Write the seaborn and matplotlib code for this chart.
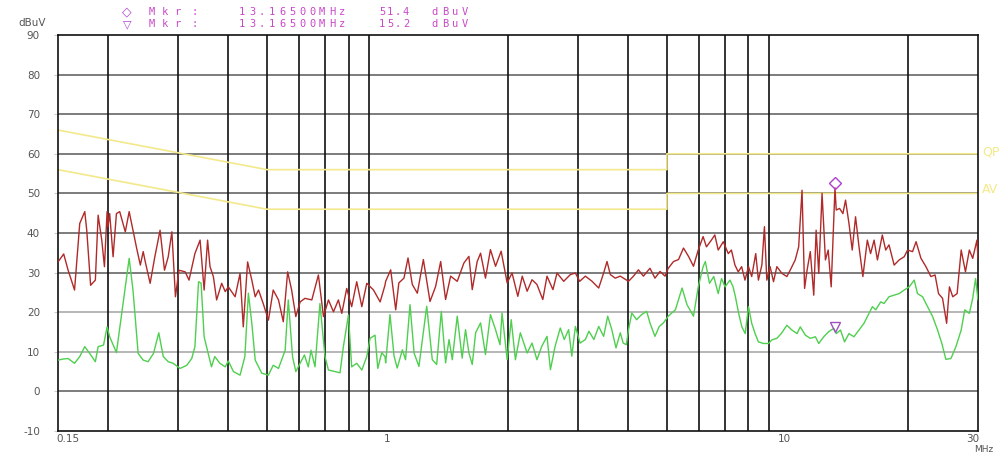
import matplotlib
matplotlib.use("Agg")
import matplotlib.pyplot as plt
import matplotlib.transforms as mtrans
import seaborn as sns
import pandas as pd

# ---------------- data ----------------
# Peak trace (dark red), three frequency bands (MHz / dBuV)
peak_freq_low = [0.150,0.155,0.159,0.165,0.170,0.175,0.177,0.181,0.186,0.189,
                 0.193,0.196,0.199,0.200,0.202,0.206,0.210,0.214,0.221,0.226,
                 0.231,0.236,0.241,0.245,0.248,0.255,0.262,0.270,0.277,0.283,
                 0.289,0.295,0.301,0.312,0.319,0.330,0.340,0.348,0.355,0.360,
                 0.367,0.374,0.385,0.393,0.400,0.416,0.428,0.436,0.447,0.458,
                 0.467,0.476,0.489,0.504,0.518,0.534,0.549,0.563,0.576,0.590,
                 0.605,0.622,0.647,0.672,0.692,0.712,0.733,0.754,0.769,0.791,
                 0.814,0.838,0.863,0.888,0.923,0.959,0.986]
peak_level_low = [32.7,34.7,30.6,25.6,42.4,45.4,40.7,26.8,28.1,44.5,
                  38.2,31.5,45.4,41.6,44.9,34.0,44.9,45.4,40.3,45.4,
                  40.7,36.1,31.9,35.3,32.7,27.3,34.0,40.7,30.6,34.0,
                  40.3,23.9,30.6,30.2,28.1,34.8,38.2,25.6,38.2,31.5,
                  29.0,23.1,27.3,25.2,26.4,23.9,29.8,16.3,32.7,28.1,
                  23.9,25.6,22.2,18.0,25.6,23.1,17.6,30.2,25.6,18.9,
                  22.6,23.5,23.1,29.4,18.9,23.1,20.1,23.1,19.7,26.0,
                  21.4,27.7,21.4,27.3,25.6,22.6,26.8]
peak_freq_mid = [0.990,1.019,1.049,1.068,1.100,1.126,1.154,1.188,1.230,1.278,
                 1.320,1.359,1.398,1.439,1.495,1.553,1.599,1.630,1.677,1.710,
                 1.759,1.810,1.864,1.925,1.993,2.050,2.119,2.174,2.236,2.300,
                 2.366,2.447,2.507,2.594,2.656,2.760,2.868,2.952,3.026,3.127,
                 3.250,3.376,3.474,3.542,3.610,3.713,3.823,4.009,4.125,4.244,
                 4.368,4.536,4.668,4.807,4.947,5.040,5.195,5.347,5.502,5.663,
                 5.828]
peak_level_mid = [27.8,30.7,20.6,27.4,28.6,33.7,27.0,24.8,33.3,22.7,
                  26.5,32.8,23.2,29.1,27.8,32.4,34.1,25.7,32.8,34.9,
                  28.6,35.8,31.6,35.4,27.4,29.9,24.0,29.1,25.3,28.2,
                  27.0,23.2,29.1,25.7,29.9,27.8,29.5,29.9,27.8,29.1,
                  27.8,26.1,29.9,32.8,29.5,28.6,29.1,27.8,29.1,30.7,
                  29.1,31.1,28.6,30.3,29.1,31.1,32.8,33.3,36.2,34.1,
                  31.6]
peak_freq_high = [5.99,6.16,6.28,6.46,6.59,6.72,6.92,7.12,7.25,7.40,
                  7.54,7.69,7.84,8.00,8.15,8.34,8.47,8.64,8.77,8.89,
                  9.06,9.24,9.42,9.70,9.98,10.17,10.47,10.68,10.89,11.05,
                  11.21,11.42,11.65,11.81,11.99,12.22,12.46,12.66,12.88,13.165,
                  13.26,13.52,13.78,13.99,14.27,14.54,14.82,15.12,15.46,15.86,
                  16.16,16.49,16.81,17.29,17.63,17.97,18.51,19.05,19.61,20.0,
                  20.58,21.00,21.60,22.23,22.87,23.43,23.9,24.46,25.04,25.45,
                  25.94,26.6,27.23,27.91,28.54,29.1,29.82,30.0]
peak_level_high = [35.7,39.1,36.5,38.2,39.5,35.7,37.8,34.8,35.7,31.9,
                   30.2,31.5,28.1,31.5,29.0,34.8,28.1,31.9,41.6,28.1,
                   31.5,27.7,31.5,29.8,29.0,30.6,33.2,36.5,50.8,26.0,
                   30.6,35.3,24.3,40.7,29.8,50.0,33.2,35.7,26.4,51.4,
                   45.8,46.2,44.9,48.3,42.4,35.7,44.1,36.5,29.0,38.2,
                   34.8,38.2,33.2,39.5,35.7,37.0,31.9,33.2,34.0,35.7,
                   35.3,37.8,33.6,31.5,29.0,29.4,24.7,23.5,17.2,26.4,
                   23.9,24.7,35.7,30.2,35.7,33.6,38.2,33.6]

# Average trace (green)
avg_freq_low = [0.150,0.155,0.159,0.165,0.170,0.175,0.180,0.186,0.189,0.195,
                0.199,0.202,0.210,0.216,0.226,0.231,0.238,0.245,0.252,0.260,
                0.268,0.275,0.283,0.291,0.303,0.315,0.324,0.330,0.337,0.342,
                0.348,0.357,0.363,0.370,0.381,0.393,0.400,0.412,0.428,0.440,
                0.449,0.458,0.467,0.485,0.504,0.518,0.534,0.555,0.565,0.579,
                0.590,0.605,0.620,0.634,0.644,0.659,0.678,0.698,0.712,0.740,
                0.761,0.776,0.799,0.814,0.838,0.863,0.888,0.905,0.931,0.946,
                0.968,0.986]
avg_level_low = [7.9,8.2,8.3,7.1,8.8,11.3,9.6,7.5,11.3,11.7,
                 16.3,13.8,9.8,18.9,33.6,25.6,9.6,7.9,7.5,9.6,
                 14.8,8.8,7.5,7.1,5.8,6.6,8.3,11.3,27.7,27.3,
                 13.8,9.2,6.2,8.8,7.1,6.2,7.7,5.0,4.1,8.8,
                 24.8,17.2,7.9,4.6,4.1,6.6,5.8,10.4,23.1,8.8,
                 5.0,7.1,9.2,6.2,10.4,6.2,22.2,8.8,5.4,5.0,
                 4.7,11.3,19.3,6.2,7.1,5.4,8.8,13.4,14.2,5.8,
                 9.8,8.8]
avg_freq_mid = [0.990,1.015,1.039,1.058,1.090,1.110,1.139,1.166,1.199,1.254,
                1.295,1.328,1.364,1.398,1.426,1.453,1.495,1.538,1.568,1.599,
                1.630,1.662,1.710,1.759,1.810,1.864,1.912,1.935,1.993,2.040,
                2.090,2.150,2.236,2.300,2.366,2.433,2.507,2.557,2.627,2.706,
                2.769,2.839,2.892,2.952,3.033,3.127,3.191,3.284,3.376,3.474,
                3.556,3.641,3.730,3.823,3.888,3.959,4.009,4.085,4.200,4.322,
                4.451,4.536,4.668,4.786,4.902,5.040,5.251,5.458,5.614,5.828]
avg_level_mid = [7.2,19.4,8.9,5.9,10.5,8.0,21.9,9.7,6.3,21.5,
                 8.0,6.8,20.2,7.2,13.1,8.0,19.0,8.4,15.6,9.7,
                 6.8,14.8,17.3,9.3,19.4,15.6,11.8,19.8,8.0,18.1,
                 8.0,14.8,9.7,12.2,8.0,11.4,13.9,5.5,11.4,16.0,
                 13.1,15.6,8.9,16.4,12.2,13.1,15.2,13.1,16.4,13.9,
                 19.0,15.6,11.0,14.8,12.2,11.8,15.6,19.8,18.1,19.4,
                 20.2,17.3,13.9,16.4,17.3,19.0,20.6,26.1,21.9,19.0]
avg_freq_high = [5.99,6.16,6.24,6.39,6.55,6.72,6.85,6.99,7.19,7.32,
                 7.42,7.56,7.70,7.85,8.00,8.15,8.31,8.47,8.72,8.98,
                 9.15,9.42,9.66,9.98,10.27,10.58,10.78,11.10,11.42,11.76,
                 11.99,12.34,12.70,13.07,13.26,13.59,13.91,14.27,14.68,15.12,
                 15.56,16.01,16.33,16.65,17.13,17.46,17.97,18.51,19.05,19.61,
                 20.19,20.78,21.17,21.80,22.44,23.10,23.77,24.36,24.93,25.67,
                 26.42,27.23,27.80,28.54,29.10,29.58,30.0]
avg_level_high = [26.4,31.5,32.8,27.3,29.0,24.7,28.5,26.4,28.1,26.4,
                  23.9,19.7,16.3,14.6,21.4,17.2,14.6,12.5,12.1,12.1,
                  13.0,13.4,14.6,16.7,15.5,14.6,16.3,14.2,13.4,13.8,
                  12.1,13.8,15.1,15.9,14.6,15.5,12.5,14.6,13.8,15.5,
                  17.2,19.7,21.4,20.6,22.6,22.2,23.9,24.3,24.7,25.6,
                  26.4,28.1,24.7,23.9,21.4,18.9,15.5,12.1,8.1,8.3,
                  11.3,15.5,20.6,19.7,23.5,28.5,23.1]

# Limit lines
qp_freq = [0.15, 0.5, 5.0, 5.0, 30.0]
qp_level = [66, 56, 56, 60, 60]
av_freq = [0.15, 0.5, 5.0, 5.0, 30.0]
av_level = [56, 46, 46, 50, 50]

# Markers
marker_freq = 13.165
marker_peak = 51.4
marker_avg = 15.2

y_ticks = [90, 80, 70, 60, 50, 40, 30, 20, 10, 0, -10]
x_tick_vals = [0.15, 1, 10, 30]
x_tick_labels = ["0.15", "1", "10", "30"]
v_grid = [0.2, 0.3, 0.4, 0.5, 0.6, 0.7, 0.8, 0.9, 2, 3, 4, 5, 6, 7, 8, 9, 20]

# ---------------- drawing ----------------
sns.set_style("white")
plt.rcParams['font.family'] = ['DejaVu Sans']

W, H = 1000, 453
fig = plt.figure(figsize=(W / 100, H / 100), dpi=100)
L, R, T, B = 58, 978, 35, 431
ax = fig.add_axes([L / W, 1 - B / H, (R - L) / W, (B - T) / H])

peak_df = pd.DataFrame({"f": peak_freq_low + peak_freq_mid + peak_freq_high,
                        "v": peak_level_low + peak_level_mid + peak_level_high})
avg_df = pd.DataFrame({"f": avg_freq_low + avg_freq_mid + avg_freq_high,
                       "v": avg_level_low + avg_level_mid + avg_level_high})

ax.set_xscale("log")
ax.set_xlim(0.15, 30)
ax.set_ylim(-10, 90)

# grid
for yv in range(0, 90, 10):
    ax.axhline(yv, color="#aaaaaa" if yv in (10, 20) else "#666666", lw=1.2, zorder=1)
for xv in v_grid:
    ax.axvline(xv, color="#111111", lw=1.2, zorder=1)

yellow = "#f3e98a"
sns.lineplot(x=qp_freq, y=qp_level, ax=ax, color=yellow, lw=1.2, sort=False, estimator=None, zorder=2)
sns.lineplot(x=av_freq, y=av_level, ax=ax, color=yellow, lw=1.2, sort=False, estimator=None, zorder=2)

sns.lineplot(data=avg_df, x="f", y="v", ax=ax, color="#4fcf4f", lw=1.0, sort=False, estimator=None, zorder=3)
sns.lineplot(data=peak_df, x="f", y="v", ax=ax, color="#b02a2a", lw=1.0, sort=False, estimator=None, zorder=4)

# markers
up5 = mtrans.offset_copy(ax.transData, fig=fig, x=0, y=5, units="dots")
up4 = mtrans.offset_copy(ax.transData, fig=fig, x=0, y=4, units="dots")
ax.plot([marker_freq], [marker_peak], marker="D", ms=6, mfc="none", mec="#b040d0", mew=1.0,
        transform=up5, zorder=6, clip_on=False)
ax.plot([marker_freq], [marker_avg], marker="v", ms=7, mfc="none", mec="#a050c0", mew=1.0,
        transform=up4, zorder=6, clip_on=False)

for s in ax.spines.values():
    s.set_color("#111111")
    s.set_linewidth(1.2)

ax.set_xlabel("")
ax.set_ylabel("")
ax.set_yticks(y_ticks)
ax.set_yticklabels([str(v) for v in y_ticks])
ax.tick_params(axis="y", length=3, color="#cccccc", labelsize=7.5, labelcolor="#555555", pad=10, left=True)
ax.set_xticks([])
ax.minorticks_off()
ax.set_xticks([], minor=True)

# x labels
for xv, lab in zip(x_tick_vals, x_tick_labels):
    tr = mtrans.blended_transform_factory(ax.transData, fig.transFigure)
    dx = 10 if lab == "0.15" else (-3 if lab == "10" else (-5 if lab == "30" else 0))
    tr = tr + mtrans.ScaledTranslation(dx / 100, 0, fig.dpi_scale_trans)
    ax.text(xv, 1 - 439 / H, lab, transform=tr, ha="center", va="center", fontsize=7.5, color="#555555")
fig.text(984 / W, 1 - 449 / H, "MHz", ha="center", va="center", fontsize=6.5, color="#555555")

# unit label
fig.text(32 / W, 1 - 23 / H, "dBuV", ha="center", va="center", fontsize=7.5, color="#555555")

# limit labels at right
fig.text(982 / W, 1 - 152 / H, "QP", ha="left", va="center", fontsize=9, color=yellow)
fig.text(982 / W, 1 - 190 / H, "AV", ha="left", va="center", fontsize=9, color=yellow)


def spaced(x0, y, s, pitch=10, color="#c040c0", size=7.5):
    for i, ch in enumerate(s):
        fig.text((x0 + i * pitch + pitch / 2) / W, 1 - y / H, ch, ha="center", va="center",
                 fontsize=size, color=color, family="DejaVu Sans Mono")


mag = "#c848c8"
fig.text(127 / W, 1 - 12 / H, "\u25C7", ha="center", va="center", fontsize=9, color="#b040d0")
fig.text(127 / W, 1 - 24 / H, "\u25BD", ha="center", va="center", fontsize=8, color="#b040d0")
for yy, val in ((12, f"{marker_peak:.1f}"), (24, f"{marker_avg:.1f}")):
    spaced(145, yy, "Mkr", pitch=13, color=mag)
    spaced(190, yy, ":", color=mag)
    spaced(237, yy, f"{marker_freq:.5f}MHz", color=mag)
    spaced(378, yy, val, pitch=8, color=mag)
    spaced(430, yy, "dBuV", color=mag)

fig.savefig("out.png", dpi=100)
